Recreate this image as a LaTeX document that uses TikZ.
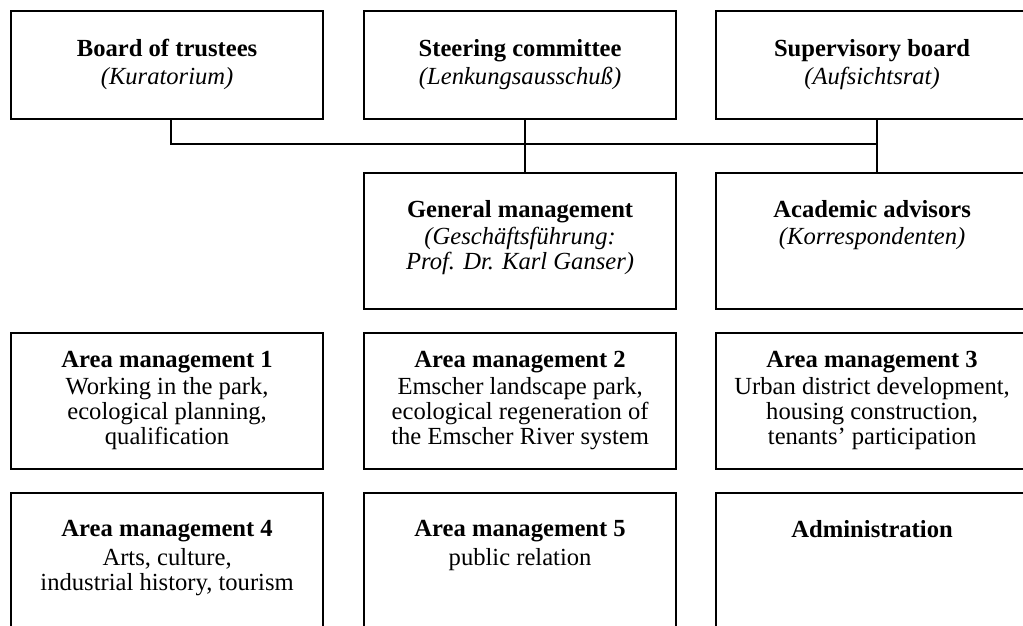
\documentclass[tikz,border=0pt]{standalone}
\usepackage{fontspec}
\setmainfont{Liberation Serif}
\usetikzlibrary{positioning}

\begin{document}
\begin{tikzpicture}
		[x=0.5pt, y=-0.5pt, inner sep=0pt,
		font=\fontsize{12.3}{12.5}\selectfont,
		box/.style={draw, line width=1.1pt, anchor=north west, minimum width=156pt},
		highbox/.style={box, minimum height=54pt},
		lowbox/.style={box, minimum height=68pt},
		txt/.style={align=center},
		conn/.style={line width=1.1pt}]
		
		\useasboundingbox (0, 0) rectangle (1023, 626);
		\clip (0, 0) rectangle (1023, 626);
		
		% top row ------------------------------------------------
		\node[highbox] (board) at (10, 10) {};
		\node[highbox] (steer) at (363, 10) {};
		\node[highbox] (super) at (715, 10) {};
		
		\node[txt, below=14.5pt of board.north] (boardtxt)
		{\textbf{Board of trustees}\\[1.5pt] \textit{(Kuratorium)}};
		\node[txt, below=14.5pt of steer.north] (steertxt)
		{\textbf{Steering committee}\\[1.5pt] \textit{(Lenkungsausschuß)}};
		\node[txt, below=14.5pt of super.north] (supertxt)
		{\textbf{Supervisory board}\\[1.5pt] \textit{(Aufsichtsrat)}};
		
		% management ---------------------------------------------
		\node[lowbox] (gm) at (363, 172) {};
		\node[lowbox] (acad) at (715, 172) {};
		
		\node[txt, below=14pt of gm.north] (gmtxt)
		{\textbf{General management}\\[1pt] \textit{(Geschäftsführung:}\\ \textit{Prof. Dr. Karl Ganser)}};
		\node[txt, below=14pt of acad.north] (acadtxt)
		{\textbf{Academic advisors}\\[1pt] \textit{(Korrespondenten)}};
		
		% area management 1-3 ------------------------------------
		\node[lowbox] (am1) at (10, 332) {};
		\node[lowbox] (am2) at (363, 332) {};
		\node[lowbox] (am3) at (715, 332) {};
		
		\node[txt, below=9.5pt of am1.north] (am1txt)
		{\textbf{Area management 1}\\[1pt] Working in the park,\\ ecological planning,\\ qualification};
		\node[txt, below=9.5pt of am2.north] (am2txt)
		{\textbf{Area management 2}\\[1pt] Emscher landscape park,\\ ecological regeneration of\\ the Emscher River system};
		\node[txt, below=9.5pt of am3.north] (am3txt)
		{\textbf{Area management 3}\\[1pt] Urban district development,\\ housing construction,\\ tenants' participation};
		
		% area management 4-5, administration --------------------
		\node[lowbox] (am4) at (10, 492) {};
		\node[lowbox] (am5) at (363, 492) {};
		\node[lowbox] (adm) at (715, 492) {};
		
		\node[txt, below=14pt of am4.north] (am4txt)
		{\textbf{Area management 4}\\[2pt] Arts, culture,\\ industrial history, tourism};
		\node[txt, below=14pt of am5.north] (am5txt)
		{\textbf{Area management 5}\\[2pt] public relation};
		\node[txt, below=14pt of adm.north] (admtxt)
		{\textbf{Administration}};
		
		% connectors ---------------------------------------------
		\coordinate (bus) at (0, 144);
		\coordinate (boardfoot) at ([xshift=2pt]board.south);
		\coordinate (superfoot) at ([xshift=2.5pt]super.south);
		
		\draw[conn] (boardfoot) -- (boardfoot |- bus) -- (superfoot |- bus);
		\draw[conn] ([xshift=2.5pt]steer.south) -- ([xshift=2.5pt]gm.north);
		\draw[conn] (superfoot) -- ([xshift=2.5pt]acad.north);
\end{tikzpicture}
\end{document}
